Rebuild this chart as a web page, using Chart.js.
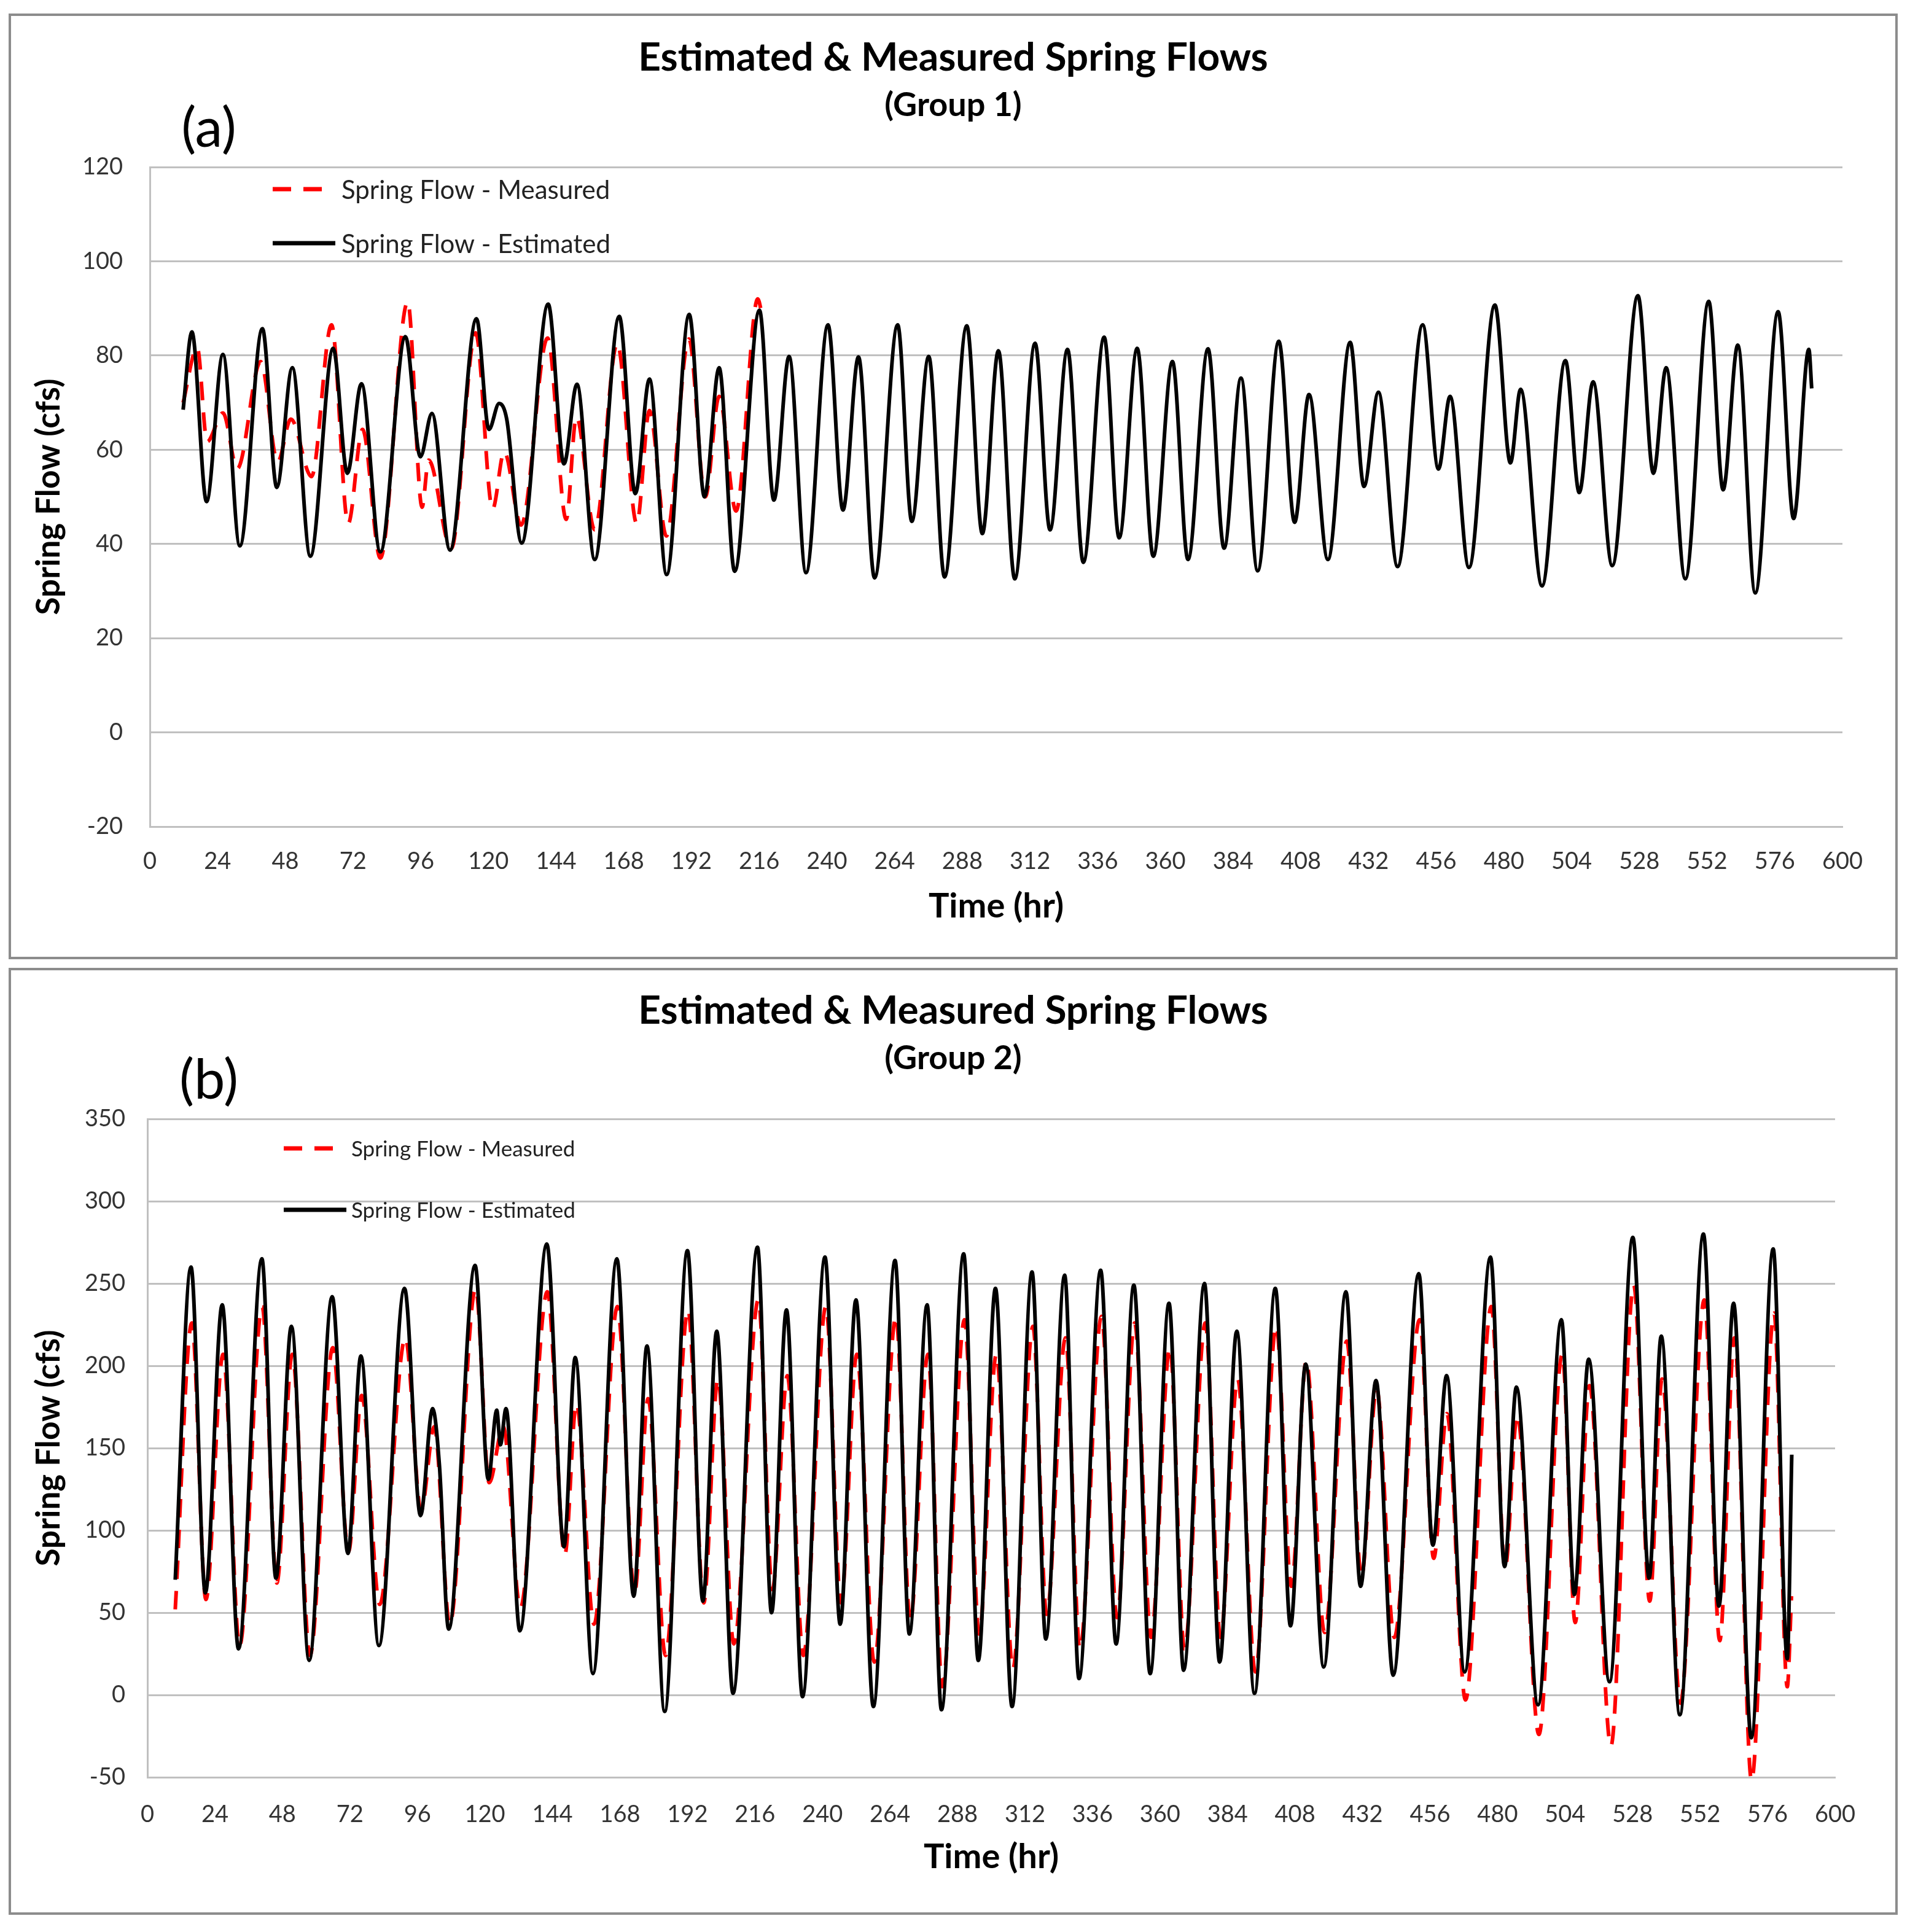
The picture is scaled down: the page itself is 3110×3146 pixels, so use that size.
<!DOCTYPE html>
<html>
<head>
<meta charset="utf-8">
<title>Estimated & Measured Spring Flows</title>
<script src="https://cdn.jsdelivr.net/npm/chart.js@4.4.1/dist/chart.umd.min.js"></script>
<style>
  body { margin: 0; background: #fff; width: 3110px; height: 3146px; position: relative; overflow: hidden; }
  .frame { position: absolute; border: 4px solid #8c8c8c; box-sizing: border-box; }
  .wrap { position: absolute; }
</style>
</head>
<body>
<div class="frame" style="left:14px;top:22px;width:3076px;height:1540px"></div>
<div class="frame" style="left:14px;top:1576px;width:3076px;height:1542px"></div>
<div class="wrap" style="left:16px;top:24px;width:3072px;height:1536px"><canvas id="chartA"></canvas></div>
<div class="wrap" style="left:16px;top:1578px;width:3072px;height:1538px"><canvas id="chartB"></canvas></div>
<script>
// Group 1 (a) - estimated (hr / cfs), read at peaks and troughs
var timeEstA = [11.8, 14.9, 20.1, 25.9, 31.9, 39.9, 45, 50.5, 56.9, 65, 70, 75, 81.7, 90.6, 95.9, 100, 106.4,
  115.8, 120.2, 123.8, 126.5, 131.8, 141.2, 146.8, 151.4, 157.7, 166.4, 172.1, 177.1, 183.2, 191.2, 196.6,
  201.8, 207.3, 216.1, 221.2, 226.6, 232.6, 240.4, 245.7, 251.2, 256.9, 265.1, 270.1, 276.1, 281.7, 289.6,
  295.1, 300.8, 306.6, 313.8, 319.1, 325.3, 330.9, 338.3, 343.6, 350, 355.7, 362.5, 368, 375.1, 380.8,
  386.8, 392.7, 400.2, 405.8, 410.9, 417.6, 425.5, 430.4, 435.5, 442.3, 451.2, 456.8, 460.9, 467.6, 476.8,
  482.3, 485.9, 493.5, 501.8, 506.7, 511.6, 518.4, 527.5, 533, 537.5, 544.3, 552.6, 557.7, 562.9, 569.1,
  577.2, 582.7, 588.1, 589.1];
var flowEstA = [68.5, 85, 49, 80.2, 39.6, 85.7, 52, 77.4, 37.4, 81.5, 55, 74, 38.3, 84, 58.5, 67.7, 38.7,
  87.8, 64.3, 69.8, 66.5, 40.2, 90.9, 57, 73.9, 36.7, 88.3, 50.7, 75, 33.5, 88.7, 50,
  77.4, 34.2, 89.6, 49.3, 79.8, 33.9, 86.5, 47.2, 79.7, 32.8, 86.5, 44.8, 79.8, 33, 86.3,
  42.2, 81, 32.6, 82.6, 43, 81.3, 36.1, 83.9, 41.3, 81.5, 37.4, 78.7, 36.7, 81.4, 39.1,
  75.2, 34.3, 83, 44.6, 71.7, 36.7, 82.8, 52.2, 72.2, 35.2, 86.5, 55.9, 71.3, 35, 90.7,
  57.2, 72.8, 31.1, 78.9, 50.9, 74.4, 35.4, 92.7, 55, 77.4, 32.6, 91.5, 51.5, 82.2, 29.6,
  89.3, 45.4, 81.3, 73];

// Group 1 (a) - measured
var timeMeasA = [11.8, 16.8, 20.3, 25.9, 31, 39.3, 45.3, 50, 57.3, 64.4, 70.3, 75.4, 81.7, 91.4, 96.5, 98.8,
  106.8, 115.5, 121.5, 125.6, 131.6, 141, 147.6, 151.2, 157.7, 165.7, 172.6, 177.1, 183.1, 191.1, 196.9,
  201.8, 207.8, 215.5, 217.2];
var flowMeasA = [70, 81.7, 61.7, 67.8, 56, 78.7, 57.4, 66.5, 54.3, 86.5, 44.3, 64.3, 37, 91.4, 47.8, 57.8,
  39, 84.8, 47.4, 59.6, 44, 83.7, 45.2, 67, 43, 82.6, 44.3, 68.3, 41.7, 83.5, 50,
  71.3, 47, 92, 88];

// Group 2 (b) - estimated
var timeEstB = [9.9, 15.5, 20.6, 26.6, 32.4, 40.7, 45.7, 51.2, 57.5, 65.7, 71.3, 75.9, 82.3, 91.4, 97.1, 101.4,
  103.8, 107.1, 116.5, 121.2, 124.2, 125.5, 127.5, 132.4, 142, 148.1, 152.1, 158.4, 166.9, 172.9, 177.6,
  183.9, 192, 197.5, 202.4, 208.2, 216.9, 221.9, 227.2, 232.9, 240.9, 246.3, 251.9, 258.1, 265.8, 270.9,
  277.2, 282.3, 290.2, 295.4, 301.5, 307.4, 314.5, 319.4, 326.1, 331.2, 338.9, 344.4, 350.7, 356.5, 363.2,
  368.4, 375.8, 381.2, 387.3, 393.6, 401, 406.4, 411.8, 418.2, 426.1, 431.3, 436.8, 442.9, 452, 457,
  461.9, 468.3, 477.5, 482.5, 486.7, 494.4, 502.7, 507.3, 512.4, 519.8, 528.1, 533.9, 538.2, 544.8, 553.2,
  558.7, 563.9, 570.2, 578, 583, 584.6];
var flowEstB = [70, 260, 62, 237, 28, 265, 71, 224, 21, 242, 86, 206, 30, 247, 109, 174,
  140, 40, 261, 131, 173, 152, 174, 39, 274, 90, 205, 13, 265, 60, 212,
  -10, 270, 57, 221, 1, 272, 50, 234, -1, 266, 43, 240, -7, 264, 37,
  237, -9, 268, 21, 247, -7, 257, 34, 255, 10, 258, 31, 249, 13, 238,
  15, 250, 20, 221, 1, 247, 42, 201, 17, 245, 66, 191, 12, 256, 91,
  194, 14, 266, 78, 187, -6, 228, 61, 204, 8, 278, 71, 218, -12, 280,
  54, 238, -26, 271, 22, 146];

// Group 2 (b) - measured
var timeMeasB = [9.9, 15.8, 20.8, 26.9, 32.8, 40.8, 46, 51.5, 57.8, 65.9, 71.5, 76.2, 82.6, 91.7, 97.3, 102,
  107.5, 116.7, 121.5, 126.5, 132.6, 142.2, 148.4, 152.5, 158.8, 167.1, 173.2, 178, 184.2, 192.2, 197.8,
  202.8, 208.5, 217.2, 222.2, 227.5, 233.2, 241.2, 246.6, 252.2, 258.4, 266.1, 271.2, 277.5, 282.6, 290.5,
  295.7, 301.8, 307.7, 314.8, 319.7, 326.4, 331.5, 339.2, 344.7, 351, 356.8, 363.5, 368.7, 376.1, 381.5,
  387.6, 393.9, 401.3, 406.7, 412, 418.5, 426.4, 431.6, 437, 443.3, 452.3, 457.3, 462, 468.6, 477.8,
  482.7, 487, 494.7, 503, 507.6, 512.7, 520.3, 528.4, 534.1, 538.5, 545, 553.5, 559, 564.2, 570.3,
  578.3, 583, 584.5];
var flowMeasB = [52, 226, 58, 207, 30, 236, 68, 207, 24, 211, 87, 182, 55, 217, 112, 163,
  43, 247, 129, 163, 53, 245, 85, 177, 43, 236, 62, 180, 24, 234, 56,
  192, 31, 240, 64, 194, 24, 236, 56, 207, 20, 230, 45, 207, 5, 228,
  37, 207, 16, 224, 49, 217, 28, 230, 47, 226, 35, 211, 28, 226, 35,
  192, 14, 224, 66, 203, 38, 215, 72, 186, 35, 228, 83, 171, -3, 236,
  77, 170, -24, 207, 44, 188, -31, 249, 57, 192, -5, 240, 33, 217, -52,
  232, 5, 60];

var seriesNames = ['Spring Flow - Measured', 'Spring Flow - Estimated'];

function toPoints(xs, ys) {
  var pts = [];
  for (var i = 0; i < xs.length; i++) {
    pts.push({ x: xs[i], y: ys[i] });
  }
  return pts;
}

// titles, panel letter and legend drawn on the canvas
var panelText = {
  id: 'panelText',
  afterDraw: function (chart, args, o) {
    var ctx = chart.ctx;
    ctx.save();
    ctx.fillStyle = '#000';
    ctx.textAlign = 'center';
    ctx.textBaseline = 'middle';
    ctx.font = 'bold 64px Lato';
    ctx.fillText('Estimated & Measured Spring Flows', o.titleX, o.titleY);
    ctx.font = 'bold 54px Lato';
    ctx.fillText(o.subtitle, o.titleX, o.subY);
    ctx.font = '90px Lato';
    ctx.fillText(o.letter, o.letterX, o.letterY);

    ctx.textAlign = 'left';
    ctx.font = o.legendFont + 'px Lato';
    chart.data.datasets.forEach(function (ds, i) {
      var y = o.legendY[i];
      var len = ds.borderDash ? o.dashLen : o.solidLen;
      ctx.strokeStyle = ds.borderColor;
      ctx.lineWidth = 7;
      ctx.setLineDash(ds.borderDash || []);
      ctx.beginPath();
      ctx.moveTo(o.legendX, y);
      ctx.lineTo(o.legendX + len, y);
      ctx.stroke();
      ctx.setLineDash([]);
      ctx.fillStyle = '#222';
      ctx.fillText(ds.label, o.textX, y + 2);
    });
    ctx.restore();
  }
};

function makeChart(id, measured, estimated, yMin, yMax, yStep, lay, text) {
  var ctx = document.getElementById(id).getContext('2d');
  return new Chart(ctx, {
    type: 'line',
    data: {
      datasets: [{
        label: seriesNames[0],
        data: measured,
        borderColor: '#ff0000',
        borderDash: [30, 20],
        borderWidth: 6,
        pointRadius: 0,
        cubicInterpolationMode: 'monotone',
        order: 1
      }, {
        label: seriesNames[1],
        data: estimated,
        borderColor: '#000000',
        borderWidth: 6,
        pointRadius: 0,
        cubicInterpolationMode: 'monotone',
        order: 0
      }]
    },
    options: {
      responsive: true,
      maintainAspectRatio: false,
      devicePixelRatio: 1,
      animation: false,
      layout: { padding: { left: 0, right: lay.right, top: lay.top, bottom: 0 } },
      plugins: {
        legend: { display: false },
        tooltip: { enabled: false },
        panelText: text
      },
      scales: {
        x: {
          type: 'linear',
          min: 0,
          max: 600,
          afterFit: function (s) { s.height = lay.xHeight; },
          ticks: { stepSize: 24, autoSkip: false, maxRotation: 0, padding: lay.xTickPad, color: '#333', font: { family: 'Lato', size: 38 } },
          grid: { display: false, drawTicks: false },
          border: { display: true, color: '#c0c0c0', width: 3 },
          title: { display: true, text: 'Time (hr)', color: '#000', font: { family: 'Lato', size: 56, weight: 'bold' }, padding: { top: 0, bottom: lay.xTitlePad } }
        },
        y: {
          min: yMin,
          max: yMax,
          afterFit: function (s) { s.width = lay.yWidth; },
          ticks: { stepSize: yStep, padding: lay.yTickPad, color: '#333', font: { family: 'Lato', size: 38 } },
          grid: { color: '#c0c0c0', lineWidth: 3, drawTicks: false },
          border: { display: true, color: '#c0c0c0', width: 3 },
          title: { display: true, text: 'Spring Flow (cfs)', color: '#000', font: { family: 'Lato', size: 53, weight: 'bold' }, padding: { top: 32, bottom: 0 } }
        }
      }
    },
    plugins: [panelText]
  });
}

makeChart('chartA', toPoints(timeMeasA, flowMeasA), toPoints(timeEstA, flowEstA), -20, 120, 20,
  { right: 88, top: 248, xHeight: 214, yWidth: 228, xTickPad: 34, yTickPad: 44, xTitlePad: 50 },
  { titleX: 1536, titleY: 70, subtitle: '(Group 1)', subY: 148, letter: '(a)', letterX: 324, letterY: 186,
    legendX: 428, legendY: [284, 372], dashLen: 84, solidLen: 102, textX: 540, legendFont: 42 });

makeChart('chartB', toPoints(timeMeasB, flowMeasB), toPoints(timeEstB, flowEstB), -50, 350, 50,
  { right: 100, top: 244, xHeight: 222, yWidth: 224, xTickPad: 38, yTickPad: 36, xTitlePad: 58 },
  { titleX: 1536, titleY: 68, subtitle: '(Group 2)', subY: 146, letter: '(b)', letterX: 324, letterY: 182,
    legendX: 446, legendY: [292, 392], dashLen: 84, solidLen: 102, textX: 556, legendFont: 35 });
</script>
</body>
</html>
